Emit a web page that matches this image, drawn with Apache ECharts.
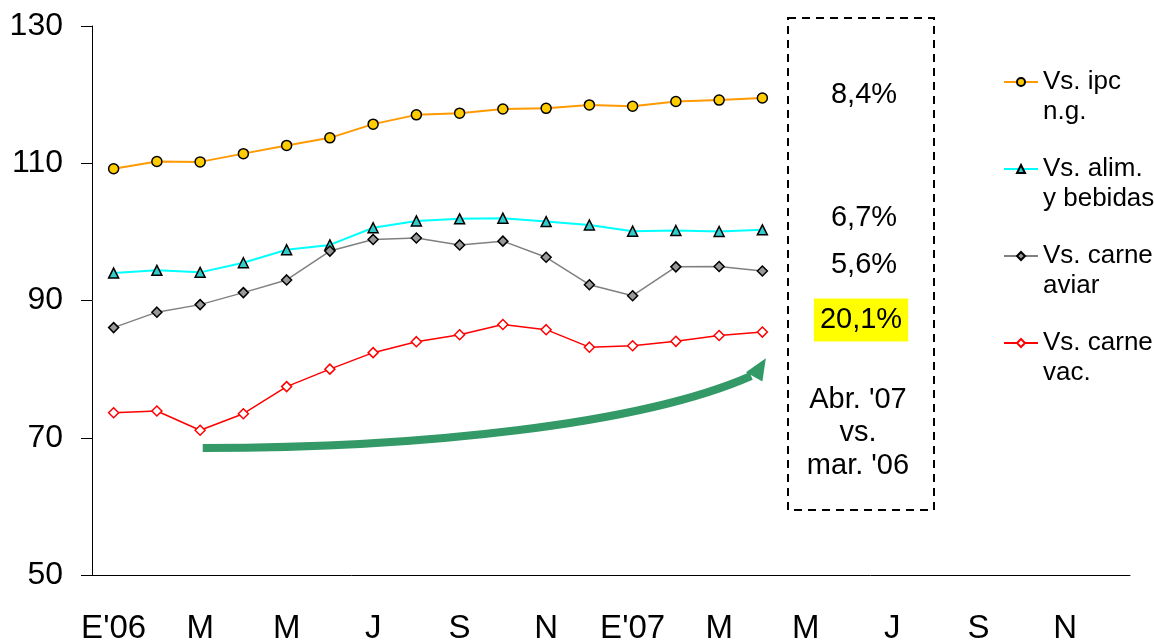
<!DOCTYPE html>
<html>
<head>
<meta charset="utf-8">
<script src="https://cdn.jsdelivr.net/npm/echarts@6/dist/echarts.min.js"></script>
<style>
  html, body { margin: 0; padding: 0; background: #fff; }
  #chart { width: 1154px; height: 640px; }
</style>
</head>
<body>
<div id="chart"></div>
<script>
// meses (E = enero)
const months = ["E'06", 'F', 'M', 'A', 'M', 'J', 'J', 'A', 'S', 'O', 'N', 'D',
  "E'07", 'F', 'M', 'A', 'M', 'J', 'J', 'A', 'S', 'O', 'N', 'D']

const ipc = [109.2, 110.25, 110.2, 111.4, 112.6, 113.7, 115.7, 117.05, 117.3, 117.9, 118.0, 118.5, 118.3, 119.0, 119.2, 119.5]
const alim = [94.0, 94.4, 94.1, 95.5, 97.4, 98.1, 100.6, 101.6, 101.9, 102.0, 101.5, 101.0, 100.1, 100.2, 100.05, 100.3]
const aviar = [86.05, 88.3, 89.4, 91.15, 93.0, 97.2, 98.9, 99.1, 98.1, 98.65, 96.3, 92.3, 90.7, 94.9, 94.95, 94.3]
const vac = [73.65, 73.9, 71.1, 73.5, 77.45, 80.0, 82.4, 84.0, 85.0, 86.5, 85.75, 83.2, 83.4, 84.05, 84.9, 85.4]

const yTicks = { min: 50, max: 130, interval: 20 }
const seriesNames = ['Vs. ipc\nn.g.', 'Vs. alim.\ny bebidas', 'Vs. carne\naviar', 'Vs. carne\nvac.']
const pctLabels = ['8,4%', '6,7%', '5,6%', '20,1%']
const noteLines = ["Abr. '07", 'vs.', "mar. '06"]

// flecha verde en coordenadas de datos (indice de mes, valor): inicio, control1, control2, fin
const arrowPath = [[2.06, 68.5], [7.1, 68.5], [12.18, 71.9], [14.74, 79.0]]
const arrowHead = [[15.08, 81.6], [14.62, 79.55], [15.0, 78.2]]

const font = "'Liberation Sans', Arial, sans-serif"

let myChart = echarts.init(document.getElementById('chart'))

function lineSeries (name, data, color, symbol, fill, border, size, width) {
  return {
    name: name,
    type: 'line',
    data: data,
    symbol: symbol,
    symbolSize: size,
    showAllSymbol: true,
    lineStyle: { color: color, width: width },
    itemStyle: { color: fill, borderColor: border, borderWidth: 1.5 }
  }
}

myChart.setOption({
  animation: false,
  backgroundColor: '#fff',
  textStyle: { fontFamily: font },
  grid: {
    left: 92,
    right: 24,
    top: 26,
    bottom: 65,
    outerBoundsMode: 'none'
  },
  legend: {
    orient: 'vertical',
    left: 1003,
    top: 37,
    padding: 0,
    itemWidth: 34,
    itemHeight: 10,
    itemGap: -3,
    formatter: name => '\n' + name, // primera linea alineada con el icono
    textStyle: {
      fontFamily: font,
      fontSize: 26,
      color: '#000',
      lineHeight: 30
    },
    data: seriesNames
  },
  xAxis: {
    type: 'category',
    data: months,
    boundaryGap: true,
    axisLine: { lineStyle: { color: '#000', width: 1 } },
    axisTick: { interval: 0, length: 11, lineStyle: { color: '#000' } },
    axisLabel: { interval: 1, fontSize: 33, color: '#000', margin: 37, fontFamily: font },
    splitLine: { show: false }
  },
  yAxis: {
    type: 'value',
    min: yTicks.min,
    max: yTicks.max,
    interval: yTicks.interval,
    axisLine: { show: true, lineStyle: { color: '#000', width: 1 } },
    axisTick: { show: true, length: 11, lineStyle: { color: '#000' } },
    axisLabel: { fontSize: 32, color: '#000', margin: 29, fontFamily: font },
    splitLine: { show: false }
  },
  series: [
    lineSeries(seriesNames[0], ipc, '#FF9900', 'circle', '#FFCC00', '#000', 10, 2),
    lineSeries(seriesNames[1], alim, '#00FFFF', 'triangle', '#33CCCC', '#000', 10, 2),
    lineSeries(seriesNames[2], aviar, '#808080', 'diamond', '#999999', '#000', 10, 1.5),
    lineSeries(seriesNames[3], vac, '#FF0000', 'diamond', '#FFFFFF', '#FF0000', 10, 1.5)
  ]
})

// el eje de categorias redondea el indice, asi que se interpola x a mano
const p0 = myChart.convertToPixel({ gridIndex: 0 }, [0, 50])
const p1 = myChart.convertToPixel({ gridIndex: 0 }, [1, 50])
const px = d => [
  p0[0] + d[0] * (p1[0] - p0[0]),
  myChart.convertToPixel({ yAxisIndex: 0 }, d[1])
]
const a = arrowPath.map(px)
const h = arrowHead.map(px)

// recuadro con las variaciones
const boxX = 788, boxY = 18, boxW = 146, boxH = 492
const pctX = 864, noteX = 858
const textY = [95, 218, 265, 320]
const noteY = [400, 433, 466]

let elements = [{
  type: 'rect',
  shape: { x: boxX, y: boxY, width: boxW, height: boxH },
  style: { fill: 'none', stroke: '#000', lineWidth: 2, lineDash: [8, 6] },
  z: 100
}]
pctLabels.forEach((t, i) => {
  let hi = i === 3
  elements.push({
    type: 'text',
    x: hi ? 861 : pctX,
    y: textY[i],
    style: {
      text: t,
      font: '29px ' + font,
      fill: '#000',
      align: 'center',
      verticalAlign: 'middle',
      backgroundColor: hi ? '#FFFF00' : null,
      padding: hi ? [7, 6, 7, 6] : 0
    },
    z: 100
  })
})
noteLines.forEach((t, i) => {
  elements.push({
    type: 'text',
    x: noteX,
    y: noteY[i],
    style: { text: t, font: '29px ' + font, fill: '#000', align: 'center', verticalAlign: 'middle' },
    z: 100
  })
})
elements.push({
  type: 'bezierCurve',
  shape: {
    x1: a[0][0], y1: a[0][1],
    cpx1: a[1][0], cpy1: a[1][1],
    cpx2: a[2][0], cpy2: a[2][1],
    x2: a[3][0], y2: a[3][1]
  },
  style: { stroke: '#339966', lineWidth: 8, fill: 'none' },
  z: 90
})
elements.push({
  type: 'polygon',
  shape: { points: h },
  style: { fill: '#339966' },
  z: 90
})

myChart.setOption({ graphic: { elements: elements } })
</script>
</body>
</html>
